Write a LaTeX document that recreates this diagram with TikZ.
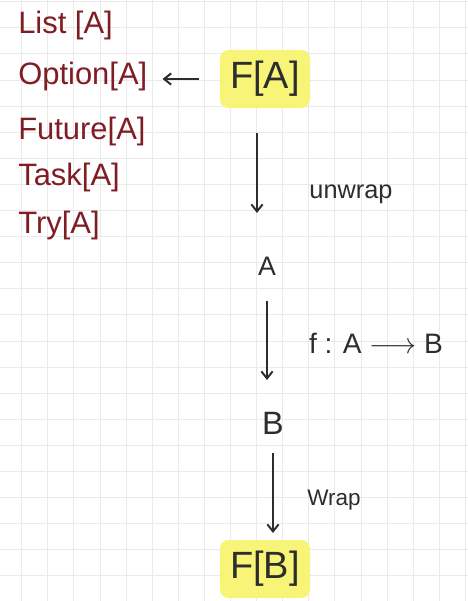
\documentclass[tikz,border=0pt]{standalone}
\usepackage{fontspec}
\setmainfont{Liberation Sans}
\usetikzlibrary{arrows.meta}
\definecolor{inkred}   {RGB}{128, 28,  36}
\definecolor{inkgray}  {RGB}{45,  45,  45}
\definecolor{hlyellow} {RGB}{248, 244, 120}
\definecolor{gridgray} {RGB}{234, 234, 234}

\begin{document}
\begin{tikzpicture}[
  x=0.025cm, y=-0.025cm,
  >={Straight Barb[length=5pt, width=8pt]},
  conn/.style={->, draw=inkgray, line width=1.4pt},
  typename/.style={anchor=base west, inner sep=0pt, text=inkred,
    font=\fontsize{22}{26}\selectfont},
  hl/.style={fill=hlyellow, rounded corners=6pt, text=inkgray,
    minimum width=2.25cm, minimum height=1.45cm,
    font=\fontsize{27}{32}\selectfont},
  lbl/.style={text=inkgray, inner sep=0pt, font=\fontsize{18}{22}\selectfont},
]

%% ─── coordinates ───────────────────────────────────────────
%%  one unit = one pixel of the 468 x 601 sheet, y grows downward
%%  grid: pitch 26.1, first lines at x = 21.7, y = 1.7

% ── paper ───────────────────────────────────────────────────
\useasboundingbox (0,0) rectangle (468,601);
\fill[white] (0,0) rectangle (468,601);
\foreach \gx in {0,...,17}
  \draw[gridgray, line width=0.7pt] (21.7+26.1*\gx,0) -- (21.7+26.1*\gx,601);
\foreach \gy in {0,...,22}
  \draw[gridgray, line width=0.7pt] (0,1.7+26.1*\gy) -- (468,1.7+26.1*\gy);

% ── type constructors (left column) ─────────────────────────
\node[typename] (lst)  at (18,33)  {List [A]};
\node[typename] (opt)  at (18,84)  {Option[A]};
\node[typename] (fut)  at (18,139) {Future[A]};
\node[typename] (tsk)  at (18,185) {Task[A]};
\node[typename] (tryA) at (18,233) {Try[A]};

% ── main chain ──────────────────────────────────────────────
\node[hl] (fa) at (265,79) {F[A]};
\node[lbl, font=\fontsize{19}{23}\selectfont] (a) at (267,266) {A};
\node[lbl, font=\fontsize{23}{27}\selectfont] (b) at (273,423) {B};
\node[hl] (fb) at (265,569) {F[B]};

% ── side labels ─────────────────────────────────────────────
\node[lbl, anchor=base] (unwrapl) at (351,198) {unwrap};
\node[lbl, anchor=base, font=\fontsize{20}{24}\selectfont] (fmap)
  at (376,353) {f : A $\longrightarrow$ B};
\node[lbl, anchor=base, font=\fontsize{16}{20}\selectfont] (wrapl)
  at (334,505) {Wrap};

% ── arrows ──────────────────────────────────────────────────
% F[A] -> Option[A]
\draw[conn, shorten <=0.525cm, shorten >=0.375cm]
  (fa.west) -- (fa.west -| opt.east);

% F[A] -> A  (unwrap)
\draw[conn, shorten <=1.35cm, shorten >=1.325cm]
  ([xshift=-0.2cm]fa.center) -- ([xshift=-0.2cm]fa.center |- a.center);

% A -> B  (f)
\draw[conn, shorten <=0.875cm, shorten >=1.075cm]
  (a.center) -- (a.center |- b.center);

% B -> F[B]  (wrap)
\draw[conn, shorten <=0.75cm, shorten >=0.9cm]
  (b.center) -- (b.center |- fb.center);

\end{tikzpicture}
\end{document}
